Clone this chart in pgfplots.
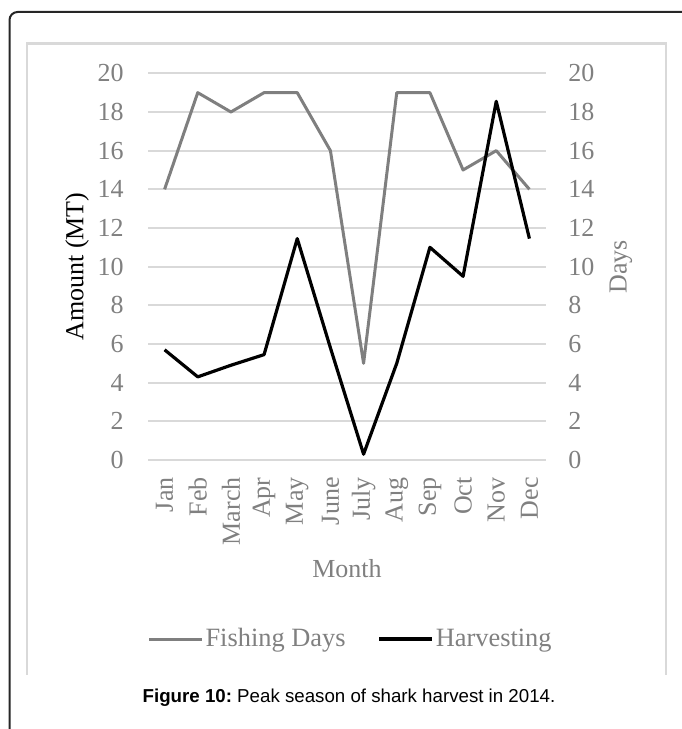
\documentclass[border=0pt]{standalone}
\usepackage{fontspec}
\setmainfont{Liberation Serif}
\newfontfamily\capfont{Liberation Sans}
\usepackage{pgfplots}
\usepackage{pgfplotstable}
\pgfplotsset{compat=1.18}

\definecolor{txtgray}{HTML}{808080}
\definecolor{linegray}{HTML}{7F7F7F}
\definecolor{gridgray}{HTML}{D9D9D9}

% month index, fishing days, harvest amount (MT)
\pgfplotstableread{
m  days amount
0  14   5.7
1  19   4.3
2  18   4.9
3  19   5.45
4  19   11.45
5  16   5.8
6  5    0.3
7  19   5.0
8  19   11.0
9  15   9.5
10 16   18.55
11 14   11.45
}\sharkdata

\pgfplotsset{
  sharkbase/.style={
    scale only axis, width=199pt, height=193.35pt,
    at={(74pt,134.5pt)}, anchor=south west,
    xmin=-0.5, xmax=11.5, ymin=0, ymax=20,
    ytick={0,2,...,20}, xtick={0,...,11},
    axis line style={draw=none}, tick style={draw=none},
    major tick length=0pt,
    font=\fontsize{13}{15}\selectfont,
    tick label style={text=txtgray, inner sep=0pt},
    /pgf/number format/assume math mode=true,
    clip=false,
  },
}

\begin{document}
\begin{tikzpicture}[x=0.5pt,y=0.5pt]
\useasboundingbox (0,0) rectangle (681,729);

% page frame and chart box
\draw[black!85, line width=1pt, rounded corners=4pt] (9.5,-5) -- (9.5,717) -- (690,717);
\draw[gridgray, line width=1.2pt] (27,54) -- (27,685.5) -- (666,685.5) -- (666,54);

% right axis: fishing days (drawn first so it sits under the black line)
\begin{axis}[sharkbase,
  ymajorgrids, grid style={gridgray, line width=0.9pt},
  yticklabel pos=right,
  yticklabel shift=11pt,
  xticklabels={Jan,Feb,March,Apr,May,June,July,Aug,Sep,Oct,Nov,Dec},
  xticklabel style={rotate=90, anchor=east},
  xticklabel shift=8.5pt,
  xlabel={Month},
  every axis x label/.style={at={(axis description cs:0.5,-0.3026)}, anchor=base, text=txtgray},
  ylabel={Days},
  every axis y label/.style={at={(axis description cs:1.188,0.5)}, rotate=90, anchor=center, text=txtgray},
  legend columns=2,
  legend style={at={(0.509,-0.463)}, anchor=center, draw=none, fill=none,
    text=txtgray, font=\fontsize{13.2}{15}\selectfont,
    nodes={inner sep=1pt},
    /tikz/every even column/.append style={column sep=15pt}},
  legend image code/.code={\draw[#1] (0pt,0pt) -- (26.5pt,0pt);},
]
\addplot[linegray, line width=1.5pt, line join=round] table[x=m, y=days] {\sharkdata};
\addlegendentry{Fishing Days}
\addlegendimage{black, line width=1.6pt}
\addlegendentry{Harvesting}
\end{axis}

% left axis: harvest amount
\begin{axis}[sharkbase,
  xticklabels={},
  yticklabel shift=12pt,
  ylabel={Amount (MT)},
  every axis y label/.style={at={(axis description cs:-0.178,0.5)}, rotate=90, anchor=center, text=black},
]
\addplot[black, line width=1.6pt, line join=round] table[x=m, y=amount] {\sharkdata};
\end{axis}

% caption
\node[font=\capfont\fontsize{9.35}{11}\selectfont, anchor=base] at (349,26)
  {\frenchspacing\textbf{Figure 10:} Peak season of shark harvest in 2014.};
\end{tikzpicture}
\end{document}
